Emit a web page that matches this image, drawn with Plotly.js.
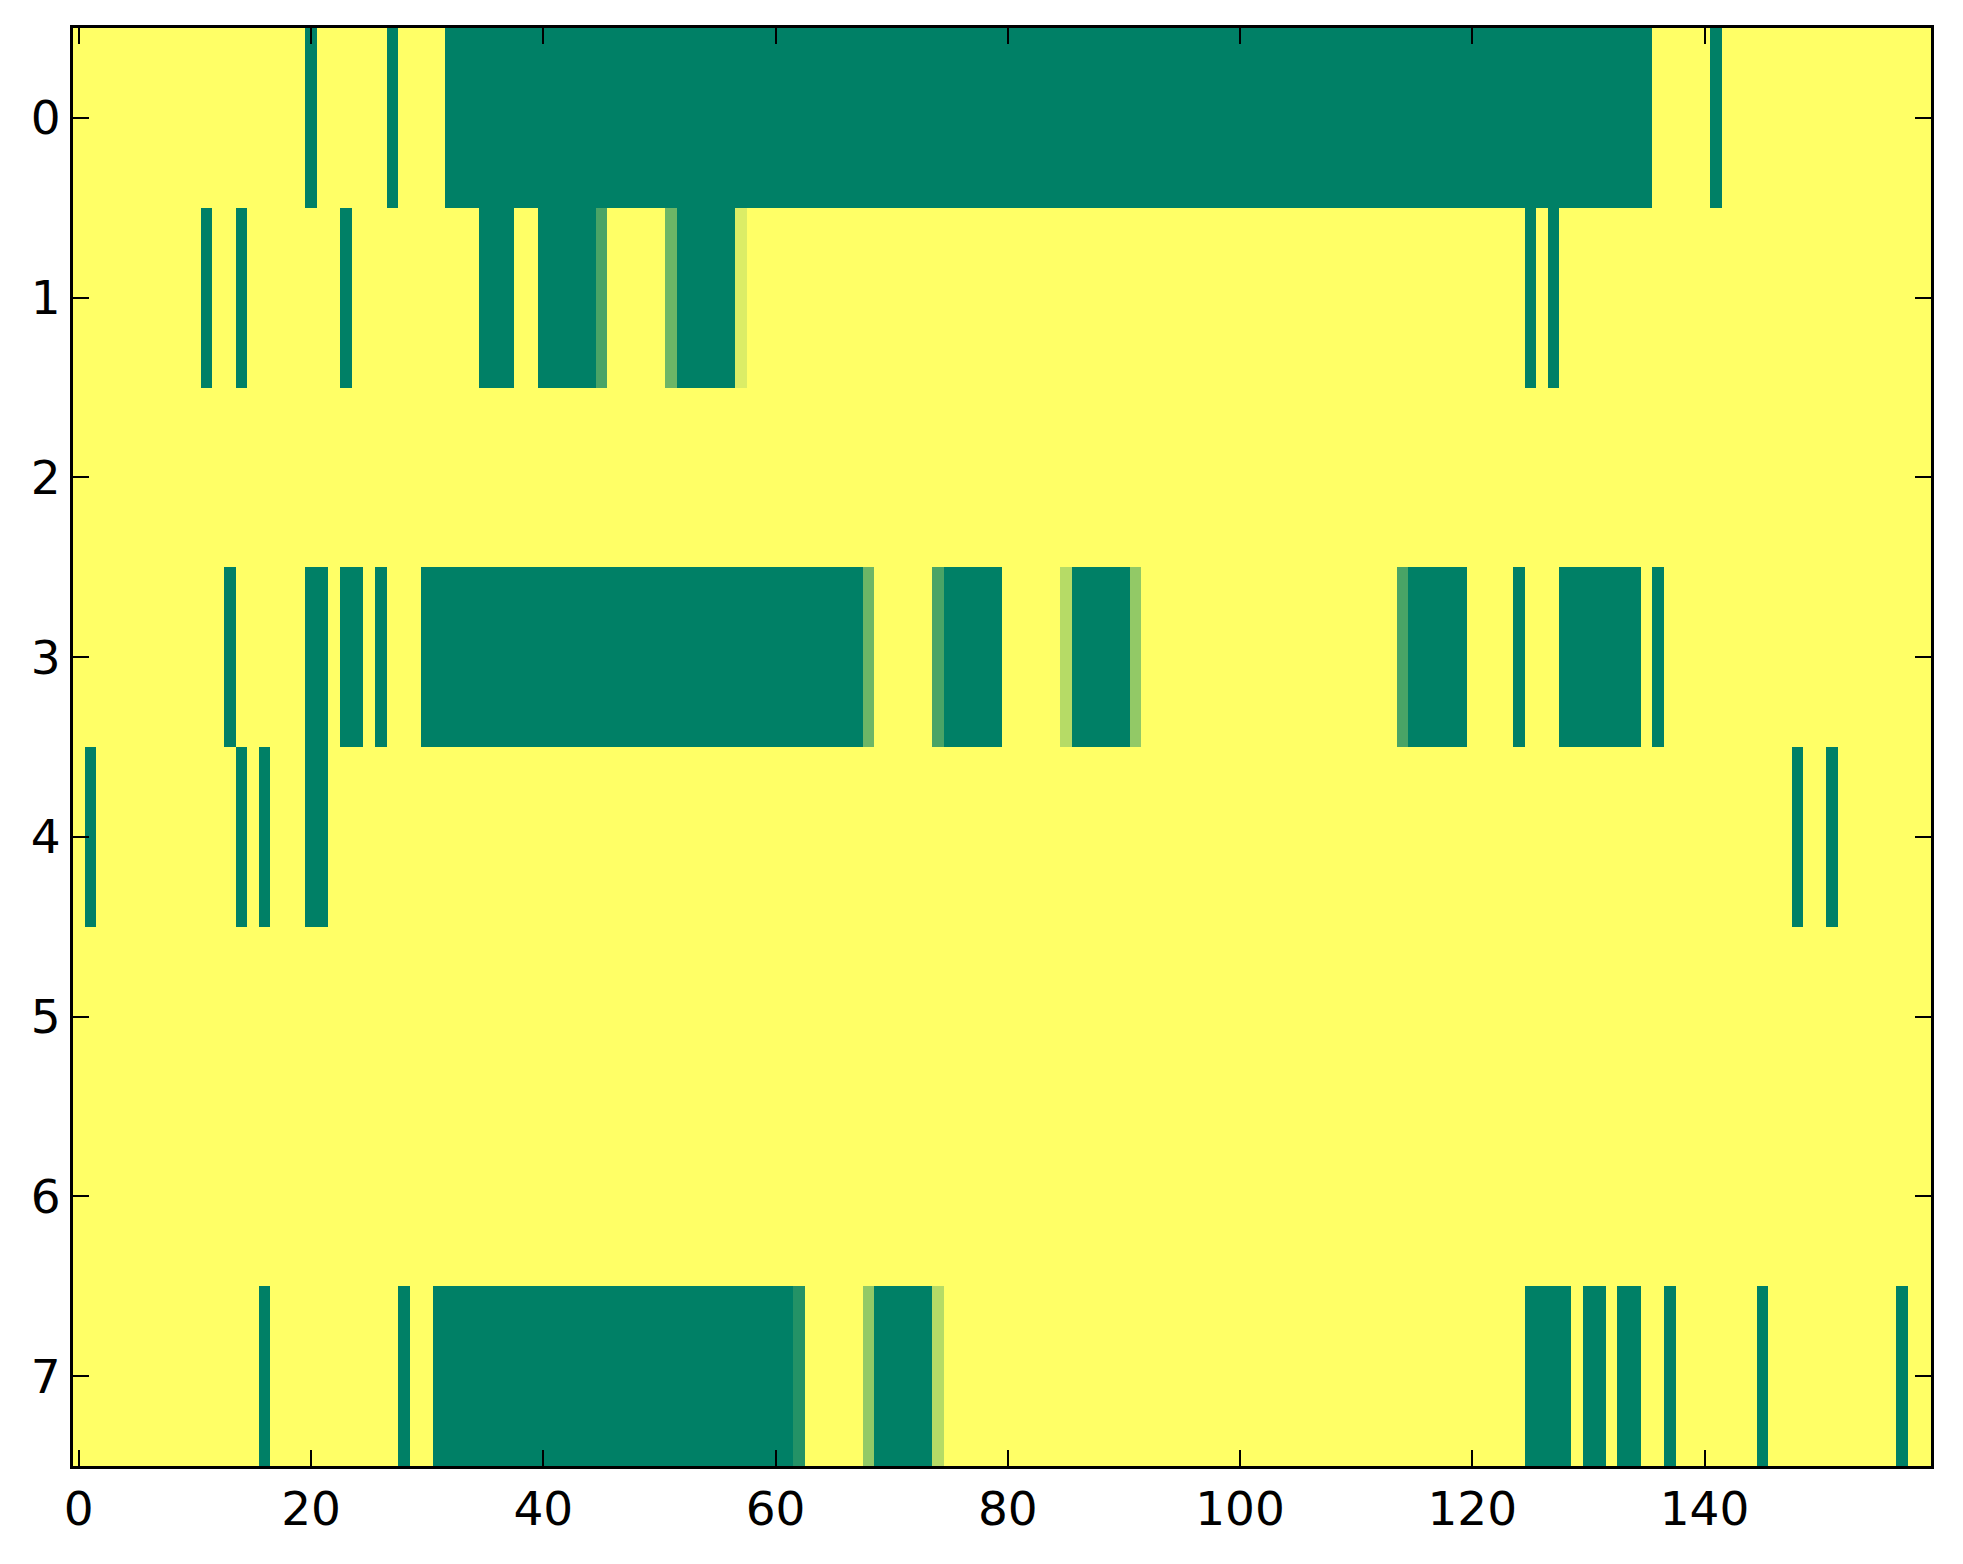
<!DOCTYPE html>
<html>
<head>
<meta charset="utf-8">
<script src="https://cdn.plot.ly/plotly-3.0.1.min.js"></script>
<style>
  html, body { margin: 0; padding: 0; background: #ffffff; }
  #chart { width: 1963px; height: 1564px; }
</style>
</head>
<body>
<div id="chart"></div>
<script>
// Each row: 160 cells, digit k means value k/7 (0 = dark green, 7 = yellow in the "summer" colormap)
const row0 = "7777777777"+"7777777777"+"0777777077"+"7700000000"+"0000000000"+"0000000000"+"0000000000"+"0000000000"+"0000000000"+"0000000000"+"0000000000"+"0000000000"+"0000000000"+"0000007777"+"7077777777"+"7777777777";
const row1 = "7777777777"+"7077077777"+"7770777777"+"7777700077"+"0000027777"+"7300000677"+"7777777777"+"7777777777"+"7777777777"+"7777777777"+"7777777777"+"7777777777"+"7777707077"+"7777777777"+"7777777777"+"7777777777";
const row2 = "7777777777"+"7777777777"+"7777777777"+"7777777777"+"7777777777"+"7777777777"+"7777777777"+"7777777777"+"7777777777"+"7777777777"+"7777777777"+"7777777777"+"7777777777"+"7777777777"+"7777777777"+"7777777777";
const row3 = "7777777777"+"7770777777"+"0070070777"+"0000000000"+"0000000000"+"0000000000"+"0000000037"+"7777200000"+"7777750000"+"0477777777"+"7777777777"+"7777200000"+"7777077700"+"0000070777"+"7777777777"+"7777777777";
const row4 = "7077777777"+"7777070777"+"0077777777"+"7777777777"+"7777777777"+"7777777777"+"7777777777"+"7777777777"+"7777777777"+"7777777777"+"7777777777"+"7777777777"+"7777777777"+"7777777777"+"7777777707"+"7077777777";
const row5 = "7777777777"+"7777777777"+"7777777777"+"7777777777"+"7777777777"+"7777777777"+"7777777777"+"7777777777"+"7777777777"+"7777777777"+"7777777777"+"7777777777"+"7777777777"+"7777777777"+"7777777777"+"7777777777";
const row6 = "7777777777"+"7777777777"+"7777777777"+"7777777777"+"7777777777"+"7777777777"+"7777777777"+"7777777777"+"7777777777"+"7777777777"+"7777777777"+"7777777777"+"7777777777"+"7777777777"+"7777777777"+"7777777777";
const row7 = "7777777777"+"7777770777"+"7777777707"+"7000000000"+"0000000000"+"0000000000"+"0017777740"+"0000577777"+"7777777777"+"7777777777"+"7777777777"+"7777777777"+"7777700007"+"0070077077"+"7777707777"+"7777777077";

const rowLabels = [0, 1, 2, 3, 4, 5, 6, 7];
const xTickVals = [0, 20, 40, 60, 80, 100, 120, 140];

const rows = [row0, row1, row2, row3, row4, row5, row6, row7];
const z = rows.map(r => r.split("").map(ch => Number(ch) / 7));
const xs = z[0].map((_, i) => i);

const trace = {
  type: "heatmap",
  z: z,
  x: xs,
  y: rowLabels,
  zmin: 0,
  zmax: 1,
  colorscale: [[0, "rgb(0,128,102)"], [1, "rgb(255,255,102)"]],
  showscale: false,
  hoverongaps: false
};

const axisCommon = {
  showline: true,
  linecolor: "#000000",
  linewidth: 3,
  mirror: "ticks",
  ticks: "inside",
  ticklen: 16,
  tickwidth: 2,
  tickcolor: "#000000",
  showgrid: false,
  zeroline: false,
  tickfont: { family: "DejaVu Sans, sans-serif", size: 47, color: "#000000" }
};

const layout = {
  width: 1963,
  height: 1564,
  margin: { l: 73, r: 32, t: 28, b: 98 },
  paper_bgcolor: "#ffffff",
  plot_bgcolor: "#ffffff",
  xaxis: Object.assign({}, axisCommon, {
    range: [-0.5, 159.5],
    tickmode: "array",
    tickvals: xTickVals,
    ticktext: xTickVals.map(String)
  }),
  yaxis: Object.assign({}, axisCommon, {
    range: [7.5, -0.5],
    tickmode: "array",
    tickvals: rowLabels,
    ticktext: rowLabels.map(String)
  }),
  showlegend: false
};

Plotly.newPlot("chart", [trace], layout, { displayModeBar: false, staticPlot: true });
</script>
</body>
</html>
